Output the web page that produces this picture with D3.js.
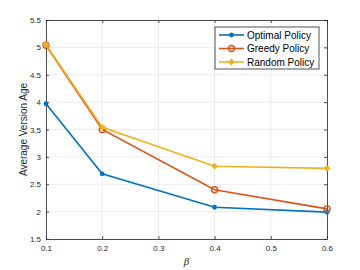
<!DOCTYPE html>
<html>
<head>
<meta charset="utf-8">
<script src="https://cdn.jsdelivr.net/npm/d3@7"></script>
<style>
  body { margin: 0; background: #fff; }
  text { font-family: "Liberation Sans", Arial, sans-serif; }
</style>
</head>
<body>
<div id="chart"></div>
<script>
const betas = [0.1, 0.2, 0.4, 0.6];
const optimal = [3.97, 2.69, 2.08, 1.99];
const greedy = [5.04, 3.50, 2.40, 2.05];
const random = [5.05, 3.54, 2.83, 2.79];
const xTicks = [0.1, 0.2, 0.3, 0.4, 0.5, 0.6];
const yTicks = [1.5, 2, 2.5, 3, 3.5, 4, 4.5, 5, 5.5];

const series = [
  {name: "Optimal Policy", values: optimal, color: "#0072BD", marker: "dot"},
  {name: "Greedy Policy", values: greedy, color: "#D95319", marker: "circle"},
  {name: "Random Policy", values: random, color: "#EDB120", marker: "diamond"}
];

// dimension margins
const margin = {top: 20, right: 33, bottom: 31, left: 46};
const W = 360, H = 270;
const width = W - margin.left - margin.right;
const height = H - margin.top - margin.bottom;

const svg = d3.select("#chart").append("svg")
  .attr("width", W).attr("height", H);
const g = svg.append("g")
  .attr("transform", `translate(${margin.left},${margin.top})`);

const x = d3.scaleLinear().domain([0.1, 0.6]).range([0, width]);
const y = d3.scaleLinear().domain([1.5, 5.5]).range([height, 0]);

// grid
g.append("g").selectAll("line").data(xTicks).enter().append("line")
  .attr("x1", d => x(d)).attr("x2", d => x(d))
  .attr("y1", 0).attr("y2", height)
  .attr("stroke", "#e6e6e6").attr("stroke-width", 0.8);
g.append("g").selectAll("line").data(yTicks).enter().append("line")
  .attr("y1", d => y(d)).attr("y2", d => y(d))
  .attr("x1", 0).attr("x2", width)
  .attr("stroke", "#e6e6e6").attr("stroke-width", 0.8);

// axes
const fmt = d => d3.format("")(d);
g.append("g").attr("transform", `translate(0,${height})`)
  .call(d3.axisBottom(x).tickValues(xTicks).tickSizeInner(-3).tickSizeOuter(0).tickPadding(6).tickFormat(fmt));
g.append("g")
  .call(d3.axisLeft(y).tickValues(yTicks).tickSizeInner(-3).tickSizeOuter(0).tickPadding(5).tickFormat(fmt));
g.append("g").attr("transform", `translate(${width},0)`)
  .call(d3.axisRight(y).tickValues(yTicks).tickSizeInner(-3).tickSizeOuter(0).tickFormat(""));
g.append("g")
  .call(d3.axisTop(x).tickValues(xTicks).tickSizeInner(-3).tickSizeOuter(0).tickFormat(""));
g.selectAll(".domain").attr("stroke", "#262626").attr("stroke-width", 0.8);
g.selectAll(".tick line").attr("stroke", "#262626").attr("stroke-width", 0.8);
g.selectAll(".tick text").attr("fill", "#262626").style("font-size", "8px")
  .style("font-family", "Liberation Sans, Arial, sans-serif");

// axis labels
svg.append("text")
  .attr("transform", `translate(27,${margin.top + height / 2}) rotate(-90)`)
  .attr("text-anchor", "middle").attr("fill", "#262626")
  .style("font-size", "10px").text("Average Version Age");
svg.append("text")
  .attr("x", margin.left + width / 2).attr("y", 265)
  .attr("text-anchor", "middle").attr("fill", "#262626")
  .style("font-size", "11px").style("font-style", "italic")
  .style("font-family", "Liberation Serif, serif").text("β");

const line = d3.line().x((d, i) => x(betas[i])).y(d => y(d));

function drawMarker(sel, s, cx, cy) {
  if (s.marker === "dot") {
    sel.append("circle").attr("cx", cx).attr("cy", cy).attr("r", 2.4).attr("fill", s.color);
  } else if (s.marker === "circle") {
    sel.append("circle").attr("cx", cx).attr("cy", cy).attr("r", 3).attr("fill", "none")
      .attr("stroke", s.color).attr("stroke-width", 1.4);
  } else {
    sel.append("path").attr("d", d3.symbol(d3.symbolDiamond2, 30)())
      .attr("transform", `translate(${cx},${cy})`).attr("fill", s.color);
  }
}

series.forEach(s => {
  g.append("path").datum(s.values).attr("d", line)
    .attr("fill", "none").attr("stroke", s.color).attr("stroke-width", 1.6);
  const mg = g.append("g");
  s.values.forEach((v, i) => drawMarker(mg, s, x(betas[i]), y(v)));
});

// legend
const lg = svg.append("g").attr("transform", "translate(215,27)");
lg.append("rect").attr("width", 104).attr("height", 42)
  .attr("fill", "#fff").attr("stroke", "#262626").attr("stroke-width", 0.8);
series.forEach((s, i) => {
  const yy = 8 + i * 13.5;
  lg.append("line").attr("x1", 4).attr("x2", 29).attr("y1", yy).attr("y2", yy)
    .attr("stroke", s.color).attr("stroke-width", 1.6);
  drawMarker(lg, s, 16.5, yy);
  lg.append("text").attr("x", 32).attr("y", yy + 3.5).attr("fill", "#000")
    .style("font-size", "10px").text(s.name);
});
</script>
</body>
</html>
